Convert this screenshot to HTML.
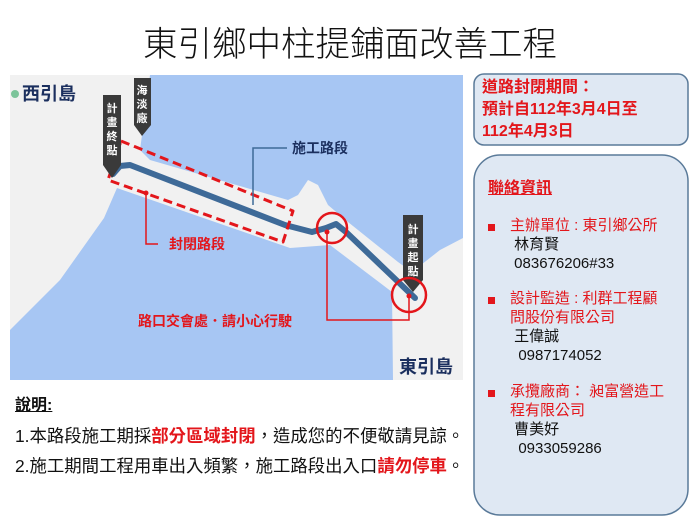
<!DOCTYPE html>
<html><head><meta charset="utf-8"><style>
body{margin:0;width:700px;height:525px;background:#fff;overflow:hidden;font-family:"Liberation Sans","Noto Sans CJK TC",sans-serif;position:relative}
.a{position:absolute;white-space:nowrap}
.r{color:#e3161b}
</style></head><body>
<div class="a" style="left:143px;top:16px;font-size:34.5px;font-weight:300;color:#111;font-family:'Noto Sans CJK TC',sans-serif;">東引鄉中柱提鋪面改善工程</div>
<svg class="a" style="left:0;top:0" width="700" height="525">
<rect x="10" y="75" width="453" height="305" fill="#f1f1f1"/>
<path d="M150,75 L463,75 L463,238 L440,250 L412,272 L398,262 L348,222 L328,205 L318,185 L308,180 L298,195 L288,200 L150,160 L140,150 Z" fill="#a7c6f3"/>
<path d="M10,330 L60,280 L104,218 L117,188 L290,248 L330,245 L392,292 L393,380 L10,380 Z" fill="#a7c6f3"/>
<polyline points="113,174 120,166 130,165 285,225 312,232 326,228 336,224 346,232 415,298" fill="none" stroke="#3e6a98" stroke-width="6" stroke-linejoin="round" stroke-linecap="round"/>
<polygon points="121,141 293,211 283,242 108,180" fill="none" stroke="#e3161b" stroke-width="3" stroke-dasharray="9,5" stroke-linejoin="round"/>
<path d="M103,95 H121 V165 L112,178 L103,165 Z" fill="#3a3a3a"/>
<path d="M134,78 H151 V125 L142,136 L134,125 Z" fill="#3a3a3a"/>
<path d="M403,215 H423 V280 L413,292 L403,280 Z" fill="#3a3a3a"/>
<g font-size="11" font-weight="bold" fill="#fff" text-anchor="middle" font-family="Noto Sans CJK TC,sans-serif">
<text x="112" y="112">計</text><text x="112" y="126">畫</text><text x="112" y="140">終</text><text x="112" y="154">點</text>
<text x="142" y="94">海</text><text x="142" y="108">淡</text><text x="142" y="122">廠</text>
<text x="413" y="233">計</text><text x="413" y="247">畫</text><text x="413" y="261">起</text><text x="413" y="275">點</text>
</g>
<circle cx="332" cy="228" r="15" fill="none" stroke="#e3161b" stroke-width="2.5"/>
<circle cx="409" cy="295" r="17" fill="none" stroke="#e3161b" stroke-width="2.5"/>
<circle cx="327" cy="232" r="2.5" fill="#e3161b"/><circle cx="409" cy="296" r="2.5" fill="#e3161b"/><circle cx="146" cy="193" r="2.5" fill="#e3161b"/>
<polyline points="327,232 327,320 409,320 409,296" fill="none" stroke="#e3161b" stroke-width="1.5"/>
<polyline points="146,193 146,244 158,244" fill="none" stroke="#e3161b" stroke-width="1.5"/>
<polyline points="253,205 253,148 287,148" fill="none" stroke="#3e6a98" stroke-width="1.5"/>
<circle cx="15" cy="94" r="4" fill="#7cc49a"/>
<rect x="474" y="74" width="214" height="71" rx="10" fill="#dfe8f3" stroke="#5a7a99" stroke-width="1.5"/>
<rect x="474" y="155" width="214" height="360" rx="26" fill="#dfe8f3" stroke="#5a7a99" stroke-width="1.5"/>
<rect x="488" y="224" width="7" height="7" fill="#e3161b"/>
<rect x="488" y="297" width="7" height="7" fill="#e3161b"/>
<rect x="488" y="390" width="7" height="7" fill="#e3161b"/>
</svg>
<div class="a" style="left:22px;top:80px;font-size:18px;font-weight:bold;color:#1b2f5e">西引島</div>
<div class="a" style="left:399px;top:353px;font-size:18px;font-weight:bold;color:#1b2f5e">東引島</div>
<div class="a" style="left:292px;top:138px;font-size:14px;font-weight:bold;color:#1b2f5e">施工路段</div>
<div class="a r" style="left:169px;top:234px;font-size:14px;font-weight:bold">封閉路段</div>
<div class="a r" style="left:138px;top:311px;font-size:14px;font-weight:bold">路口交會處．請小心行駛</div>
<div class="a" style="left:15px;top:391px;font-size:16px;font-weight:bold;text-decoration:underline;color:#111">說明:</div>
<div class="a" style="left:15px;top:423px;font-size:17.4px;color:#111">1.本路段施工期採<span class="r" style="font-weight:bold">部分區域封閉</span>，造成您的不便敬請見諒。</div>
<div class="a" style="left:15px;top:453px;font-size:17.4px;color:#111">2.施工期間工程用車出入頻繁，施工路段出入口<span class="r" style="font-weight:bold">請勿停車</span>。</div>
<div class="a r" style="left:482px;top:77px;font-size:16px;font-weight:bold;line-height:22px">道路封閉期間：<br>預計自112年3月4日至<br>112年4月3日</div>
<div class="a r" style="left:488px;top:174px;font-size:16px;font-weight:bold;text-decoration:underline">聯絡資訊</div>
<div class="a" style="left:510px;top:216px;font-size:15px;line-height:19px;color:#111"><span class="r">主辦單位 : 東引鄉公所</span><br>&nbsp;林育賢<br>&nbsp;083676206#33</div>
<div class="a" style="left:510px;top:289px;font-size:15px;line-height:19px;color:#111"><span class="r">設計監造 : 利群工程顧<br>問股份有限公司</span><br>&nbsp;王偉誠<br>&nbsp;&nbsp;0987174052</div>
<div class="a" style="left:510px;top:382px;font-size:15px;line-height:19px;color:#111"><span class="r">承攬廠商： 昶富營造工<br>程有限公司</span><br>&nbsp;曹美好<br>&nbsp;&nbsp;0933059286</div>
</body></html>
